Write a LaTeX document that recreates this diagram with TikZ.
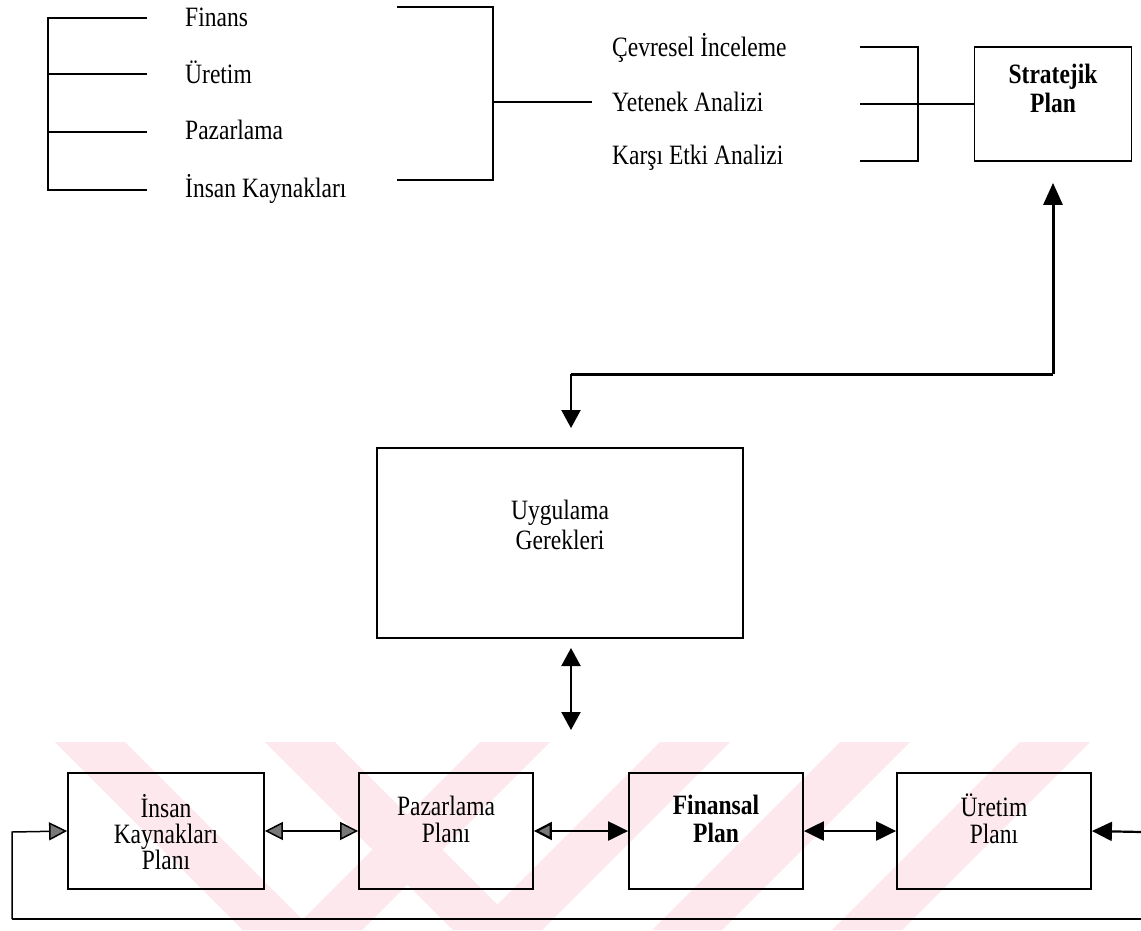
\documentclass[tikz,border=0pt]{standalone}
\usepackage{fontspec}
\setmainfont{Liberation Serif}[FakeStretch=0.84]
\usetikzlibrary{arrows.meta}

\definecolor{wmpink}{RGB}{253,233,237}
\definecolor{tipgray}{RGB}{120,120,120}

\tikzset{
  thinline/.style={line width=1.5pt},
  boldline/.style={line width=2.2pt},
  heavyline/.style={line width=3pt},
  plainbox/.style={draw, line width=1.8pt, inner sep=0pt},
  lab/.style={inner sep=0pt, anchor=base west, font=\fontsize{28}{30}\selectfont},
  boxtext/.style={inner sep=0pt, align=center, font=\fontsize{28}{27}\selectfont},
  boldtext/.style={inner sep=0pt, align=center, font=\fontsize{28}{29}\selectfont\bfseries},
  blacktip/.tip={Triangle[length=20pt, width=19pt]},
  graytip/.tip={Triangle[length=18pt, width=18pt, fill=tipgray]},
}

\begin{document}
\begin{tikzpicture}[x=1pt, y=-1pt]
\useasboundingbox (0,0) rectangle (1141,930);
\fill[white] (0,0) rectangle (1141,930);

% faint diagonal bands behind the bottom row
\begin{scope}
  \clip (0,742) rectangle (1141,930);
  \fill[wmpink] (55,742) -- (125,742) -- (313,930) -- (243,930) -- cycle;
  \fill[wmpink] (265,742) -- (335,742) -- (523,930) -- (453,930) -- cycle;
  \fill[wmpink] (480,742) -- (550,742) -- (362,930) -- (292,930) -- cycle;
  \fill[wmpink] (660,742) -- (730,742) -- (542,930) -- (472,930) -- cycle;
  \fill[wmpink] (840,742) -- (910,742) -- (722,930) -- (652,930) -- cycle;
  \fill[wmpink] (1020,742) -- (1090,742) -- (902,930) -- (832,930) -- cycle;
\end{scope}

% functional areas
\node[lab] (fin) at (185,26) {Finans};
\node[lab] (ure) at (185,83) {Üretim};
\node[lab] (paz) at (185,139) {Pazarlama};
\node[lab] (ika) at (185,197) {İnsan Kaynakları};

\coordinate (lb1) at (48,18);
\coordinate (lb4) at (48,190);
\draw[thinline] (147,18) -- (lb1) -- (lb4) -- (147,190);
\draw[thinline] (48,74) -- (147,74);
\draw[thinline] (48,132) -- (147,132);

% gathering bracket
\coordinate (rb1) at (493,7);
\coordinate (rb2) at (493,180);
\draw[thinline] (397,7) -- (rb1) -- (rb2) -- (397,180);

% analyses
\node[lab] (cev) at (612,56) {Çevresel İnceleme};
\node[lab] (yet) at (612,111) {Yetenek Analizi};
\node[lab] (kar) at (612,164) {Karşı Etki Analizi};
\coordinate (rbm) at (493,102);
\coordinate (yetin) at (592,102);
\draw[thinline] (rbm) -- (yetin);

% strategic plan
\node[plainbox, minimum width=157pt, minimum height=114pt] (strat) at (1053,104) {};
\node[boldtext] (stratt) at (1053,88) {Stratejik\\Plan};

\coordinate (sb1) at (918,47);
\coordinate (sb3) at (918,161);
\draw[thinline] (860,47) -- (sb1) -- (sb3) -- (860,161);
\draw[thinline] (860,104) -- (strat.west);

% implementation requirements
\node[plainbox, minimum width=366pt, minimum height=190pt] (ug) at (560,543) {};
\node[boxtext, font=\fontsize{28}{30}\selectfont] (ugt) at (560,525) {Uygulama\\Gerekleri};

\coordinate (turn) at (1053,374);
\coordinate (corner) at (571,374);
\coordinate (ugin) at (571,428);
\draw[heavyline, -{blacktip[length=22pt]}] (turn) -- ([yshift=-21pt]strat.south);
\draw[heavyline] (turn) -- (corner);
\draw[boldline, -{blacktip[length=18pt]}] (corner) -- (ugin);

\coordinate (ugout) at (571,648);
\coordinate (rowin) at (571,730);
\draw[boldline, {blacktip[length=18pt]}-{blacktip[length=18pt]}] (ugout) -- (rowin);

% functional plans
\node[plainbox, minimum width=196pt, minimum height=116pt] (ikp) at (166,831) {};
\node[plainbox, minimum width=174pt, minimum height=116pt] (pzp) at (446,831) {};
\node[plainbox, minimum width=174pt, minimum height=116pt] (fnp) at (716,831) {};
\node[plainbox, minimum width=194pt, minimum height=116pt] (urp) at (994,831) {};

\node[boxtext, font=\fontsize{28}{26}\selectfont] (ikt) at (166,832) {İnsan\\Kaynakları\\Planı};
\node[boxtext] (pzt) at (446,819) {Pazarlama\\Planı};
\node[boldtext, font=\fontsize{28}{28}\selectfont\bfseries] (fnt) at (716,819) {Finansal\\Plan};
\node[boxtext] (urt) at (994,819) {Üretim\\Planı};

\draw[thinline, {graytip}-{graytip}] (ikp.east) -- (pzp.west);
\draw[boldline, {graytip}-{blacktip}] (pzp.east) -- (fnp.west);
\draw[boldline, {blacktip}-{blacktip}] (fnp.east) -- (urp.west);

% feedback loop
\coordinate (rin) at (1141,832);
\coordinate (loopr) at (1141,919);
\coordinate (loopl) at (12,919);
\coordinate (loopu) at (12,832);
\draw[boldline, -{blacktip}] (rin) -- (urp.east);
\draw[boldline] (loopr) -- (loopl);
\draw[thinline, -{graytip}] (loopl) -- (loopu) -- (ikp.west);
\end{tikzpicture}
\end{document}
